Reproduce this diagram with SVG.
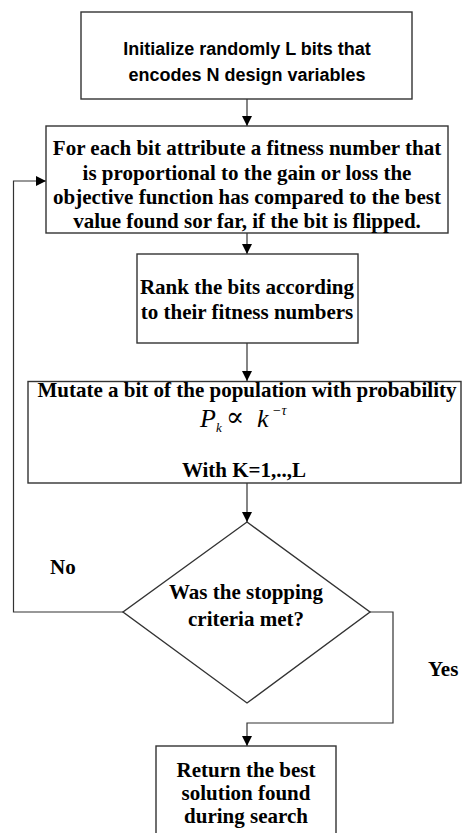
<svg xmlns="http://www.w3.org/2000/svg" width="462" height="833" viewBox="0 0 462 833">
<style>
.box{fill:#fff;stroke:#333;stroke-width:1.4}
.cn{fill:none;stroke:#333;stroke-width:1.2}
.ts{font-family:"Liberation Sans",Arial,sans-serif;font-weight:bold;font-size:18px;fill:#000;text-anchor:middle}
.tr{font-family:"Liberation Serif","Times New Roman",serif;font-weight:bold;font-size:21px;fill:#000;text-anchor:middle}
.tl{font-family:"Liberation Serif","Times New Roman",serif;font-weight:bold;font-size:21px;fill:#000}
.m{font-family:"Liberation Serif","Times New Roman",serif;font-style:italic;fill:#000}
.sym{font-family:"DejaVu Serif","Liberation Serif",serif;fill:#000}
</style>
<defs>
<marker id="ah" viewBox="0 0 10 10" refX="10" refY="5" markerWidth="10" markerHeight="10" markerUnits="userSpaceOnUse" orient="auto">
<path d="M0,0 L10,5 L0,10 Z" fill="#000"/>
</marker>
</defs>
<rect width="462" height="833" fill="#fff"/>
<g id="connectors">
<line class="cn" x1="247" y1="99" x2="247" y2="126" marker-end="url(#ah)"/>
<line class="cn" x1="247" y1="233" x2="247" y2="254" marker-end="url(#ah)"/>
<line class="cn" x1="247" y1="343" x2="247" y2="381" marker-end="url(#ah)"/>
<line class="cn" x1="247" y1="483" x2="247" y2="522" marker-end="url(#ah)"/>
<polyline class="cn" points="123,612 13.5,612 13.5,181 46,181" marker-end="url(#ah)"/>
<polyline class="cn" points="370,612 393,612 393,723 247,723 247,746" marker-end="url(#ah)"/>
</g>
<g id="n1">
<rect class="box" x="81" y="12" width="331" height="87"/>
<text class="ts" x="247" y="55">Initialize randomly L bits that</text>
<text class="ts" x="247" y="81">encodes N design variables</text>
</g>
<g id="n2">
<rect class="box" x="46" y="126" width="402" height="107"/>
<text class="tr" x="247" y="155">For each bit attribute a fitness number that</text>
<text class="tr" x="247" y="180">is proportional to the gain or loss the</text>
<text class="tr" x="247" y="204">objective function has compared to the best</text>
<text class="tr" x="247" y="228">value found sor far, if the bit is flipped.</text>
</g>
<g id="n3">
<rect class="box" x="137" y="254" width="221" height="89"/>
<text class="tr" x="247" y="294">Rank the bits according</text>
<text class="tr" x="247" y="319">to their fitness numbers</text>
</g>
<g id="n4">
<rect class="box" x="28" y="381.5" width="433" height="101.5"/>
<text class="tr" x="247" y="397">Mutate a bit of the population with probability</text>
<text class="m" x="200" y="427" font-size="26">P</text>
<text class="m" x="216" y="432" font-size="13">k</text>
<text class="sym" x="226" y="426" font-size="27">∝</text>
<text class="m" x="257" y="427" font-size="26">k</text>
<text class="m" x="272" y="415" font-size="14">−τ</text>
<text class="tr" x="244" y="477">With K=1,..,L</text>
</g>
<g id="n5">
<polygon class="box" points="247,522 370,612 247,703 123,612"/>
<text class="tr" x="246" y="599">Was the stopping</text>
<text class="tr" x="246" y="626">criteria met?</text>
</g>
<g id="n6">
<rect class="box" x="156" y="746" width="180" height="100"/>
<text class="tr" x="246" y="777">Return the best</text>
<text class="tr" x="246" y="800">solution found</text>
<text class="tr" x="246" y="823">during search</text>
</g>
<g id="labels">
<text class="tl" x="50" y="574">No</text>
<text class="tl" x="428" y="676">Yes</text>
</g>
</svg>
